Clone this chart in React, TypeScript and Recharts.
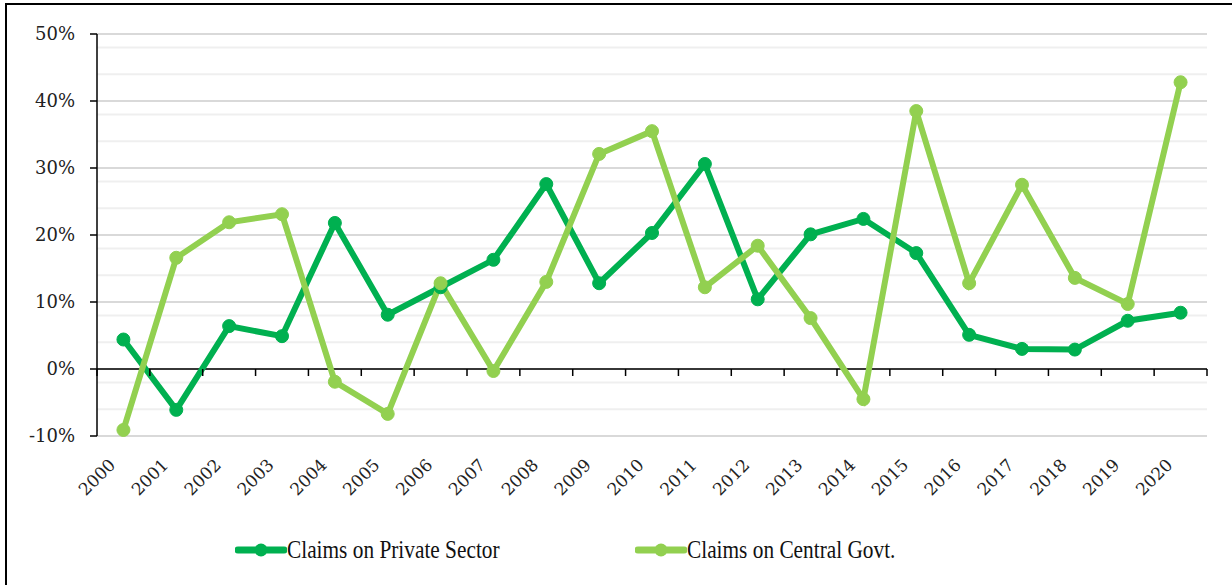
import { LineChart, Line, XAxis, YAxis, CartesianGrid, ReferenceLine, Legend } from "recharts"

const years = ["2000", "2001", "2002", "2003", "2004", "2005", "2006", "2007", "2008", "2009", "2010", "2011", "2012", "2013", "2014", "2015", "2016", "2017", "2018", "2019", "2020"]
const privateSector = [4.4, -6.1, 6.4, 4.9, 21.8, 8.1, 12.2, 16.3, 27.6, 12.8, 20.3, 30.6, 10.4, 20.1, 22.4, 17.3, 5.1, 3.0, 2.9, 7.2, 8.4]
const centralGovt = [-9.1, 16.6, 21.9, 23.1, -1.9, -6.7, 12.8, -0.3, 13.0, 32.1, 35.5, 12.2, 18.4, 7.6, -4.5, 38.5, 12.8, 27.5, 13.6, 9.7, 42.8]
const yTicks = [-10, 0, 10, 20, 30, 40, 50]
const minorLines = [-8, -6, -4, -2, 2, 4, 6, 8, 12, 14, 16, 18, 22, 24, 26, 28, 32, 34, 36, 38, 42, 44, 46, 48]

const seriesNames = { priv: "Claims on Private Sector", govt: "Claims on Central Govt." }
const colors = { priv: "#00b050", govt: "#92d050" }

const data = years.map((y, i) => ({ year: y, priv: privateSector[i], govt: centralGovt[i] }))

const W = 1232
const H = 585
const PLOT_LEFT = 97
const PLOT_TOP = 34
const PLOT_RIGHT = 1207
const PLOT_BOTTOM = 436
const LEGEND_H = 60
const BOTTOM = 10
const Y_MIN = -10
const Y_MAX = 50
const zeroY = PLOT_TOP + ((PLOT_BOTTOM - PLOT_TOP) * Y_MAX) / (Y_MAX - Y_MIN)
const band = (PLOT_RIGHT - PLOT_LEFT) / years.length

const XTick = (props: any) => {
  const { x, y, payload, index } = props
  return (
    <g>
      <line x1={x - band / 2} x2={x - band / 2} y1={zeroY} y2={zeroY + 7} stroke="#000" strokeWidth={1.5} />
      {index === years.length - 1 && (
        <line x1={x + band / 2} x2={x + band / 2} y1={zeroY} y2={zeroY + 7} stroke="#000" strokeWidth={1.5} />
      )}
      <text
        x={x - 7}
        y={y + 22}
        transform={`rotate(-45, ${x - 7}, ${y + 22})`}
        textAnchor="end"
        fontFamily="DejaVu Serif"
        fontSize={17}
        fill="#222"
      >
        {payload.value}
      </text>
    </g>
  )
}

const YTick = (props: any) => {
  const { x, y, payload } = props
  return (
    <text x={x} y={y} dy={6} textAnchor="end" fontFamily="DejaVu Serif" fontSize={18} fill="#222">
      {`${payload.value}%`}
    </text>
  )
}

const LegendBox = () => (
  <div style={{ display: "flex", height: 30, marginTop: 20, alignItems: "center", paddingLeft: 235 }}>
    {(["priv", "govt"] as const).map((k) => (
      <div key={k} style={{ display: "flex", alignItems: "center", marginRight: 130 }}>
        <svg width={52} height={16}>
          <line x1={3} x2={49} y1={8} y2={8} stroke={colors[k]} strokeWidth={7} strokeLinecap="round" />
          <circle cx={26} cy={8} r={6.5} fill={colors[k]} />
        </svg>
        <span
          style={{
            fontFamily: "Liberation Serif",
            fontSize: 26,
            color: "#111",
            display: "inline-block",
            transform: "scaleX(0.82)",
            transformOrigin: "left center",
            width: 218,
            whiteSpace: "nowrap",
          }}
        >
          {seriesNames[k]}
        </span>
      </div>
    ))}
  </div>
)

export default function App() {
  return (
    <div style={{ position: "absolute", left: 0, top: 0, width: W, height: H, background: "#fff", overflow: "hidden" }}>
      <div
        style={{
          position: "absolute",
          left: 5,
          top: 3,
          width: W,
          height: H,
          borderLeft: "2px solid #000",
          borderTop: "2px solid #000",
        }}
      />
      <div style={{ position: "absolute", left: 0, top: 0 }}>
        <LineChart width={W} height={H} data={data} margin={{ top: PLOT_TOP, right: W - PLOT_RIGHT, left: 0, bottom: BOTTOM }}>
          <CartesianGrid vertical={false} horizontalValues={minorLines} stroke="#efefef" strokeWidth={2} />
          <CartesianGrid vertical={false} horizontalValues={yTicks} stroke="#d9d9d9" strokeWidth={2} />
          <XAxis
            dataKey="year"
            axisLine={false}
            tickLine={false}
            tick={<XTick />}
            interval={0}
            padding={{ left: band / 2, right: band / 2 }}
            height={H - PLOT_BOTTOM - BOTTOM - LEGEND_H}
          />
          <YAxis
            width={PLOT_LEFT}
            domain={[Y_MIN, Y_MAX]}
            ticks={yTicks}
            axisLine={{ stroke: "#000", strokeWidth: 1.5 }}
            tickLine={{ stroke: "#000", strokeWidth: 1.5 }}
            tickSize={7}
            tickMargin={15}
            tick={<YTick />}
          />
          <ReferenceLine y={0} stroke="#000" strokeWidth={1.5} />
          <Legend verticalAlign="bottom" height={LEGEND_H} content={<LegendBox />} />
          <Line
            dataKey="priv"
            name={seriesNames.priv}
            stroke={colors.priv}
            strokeWidth={6}
            dot={{ r: 6.5, fill: colors.priv, stroke: colors.priv, strokeWidth: 1 }}
            isAnimationActive={false}
          />
          <Line
            dataKey="govt"
            name={seriesNames.govt}
            stroke={colors.govt}
            strokeWidth={6}
            dot={{ r: 6.5, fill: colors.govt, stroke: colors.govt, strokeWidth: 1 }}
            isAnimationActive={false}
          />
        </LineChart>
      </div>
    </div>
  )
}
